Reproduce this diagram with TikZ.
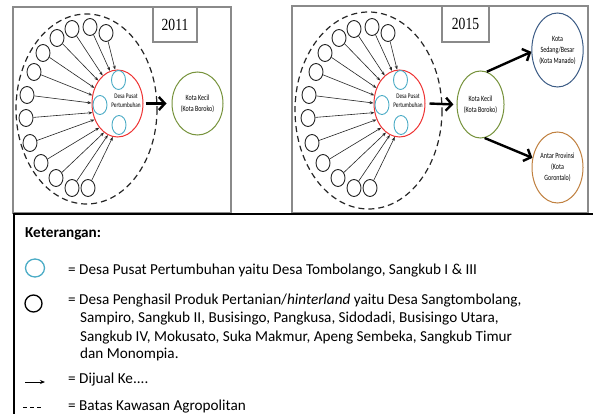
\documentclass[tikz,border=0pt]{standalone}
\usepackage{fontspec}
\setmainfont{Carlito}
\newfontfamily\nodefont[FakeStretch=0.75]{Carlito}
\newfontfamily\yearfont[FakeStretch=0.8]{Liberation Serif}
\usetikzlibrary{shapes.geometric,arrows.meta}
\definecolor{redc}{HTML}{EE3333}
\definecolor{bluec}{HTML}{4BACC6}
\definecolor{greenc}{HTML}{77933C}
\definecolor{navyc}{HTML}{3B5B85}
\definecolor{orangec}{HTML}{C0803F}
\definecolor{framec}{HTML}{8A8A8A}
\newcommand\makecluster[5]{%
\begin{scope}[shift={(#2,0)}, name prefix=#1-]
  \draw[dashline] (86.5,#5) ellipse [x radius=#3, y radius=#4];
  \node[pusat] (red) at (117.5,103.5) {};
  \node[growth] (g1) at (118.5,80) {};
  \node[growth] (g2) at (100,105) {};
  \node[growth] (g3) at (119,125) {};
  \node[smalltext] (lbl) at (126,101) {Desa Pusat\\Pertumbuhan};
  \foreach \i/\cx/\cy/\ang in {1/106/33/94, 2/90/27/103, 3/72/29/118, 4/57/38/130, 5/43/53/146, 6/34/72/162, 7/27/95/179, 8/26/118/200, 9/30/143/215, 10/41/163/233, 11/56/178/245, 12/72/188/253, 13/88/188/262}{
    \node[village] (v\i) at (\cx,\cy) {};
    \draw[feed] (v\i) -- (red.\ang);
  }
\end{scope}}
\begin{document}
\begin{tikzpicture}[x=1pt,y=-1pt,
  village/.style={draw=black!85, line width=0.9pt, ellipse, minimum width=14pt, minimum height=17pt, inner sep=0pt},
  growth/.style={draw=bluec, line width=0.9pt, ellipse, minimum width=14pt, minimum height=19pt, inner sep=0pt},
  pusat/.style={draw=redc, line width=1pt, ellipse, minimum width=51pt, minimum height=67pt, inner sep=0pt},
  feed/.style={-{Stealth[length=4pt,width=3pt]}, line width=0.6pt, black!85},
  big/.style={-{Straight Barb[length=6pt,width=13pt]}, line width=2.4pt},
  dashline/.style={line width=1.2pt, black!85, dash pattern=on 6pt off 4pt},
  city/.style={ellipse, line width=1pt, inner sep=0pt, align=center, font=\nodefont\fontsize{8}{11}\selectfont},
  smalltext/.style={inner sep=0pt, align=center, font=\nodefont\fontsize{7}{9}\selectfont},
  frame/.style={draw=framec, line width=1.2pt},
  leg/.style={anchor=base west, inner sep=0pt, font=\fontsize{15.2}{18}\selectfont}
]
\useasboundingbox (0,0) rectangle (593,414);
\fill[white] (0,0) rectangle (593,414);
% frames
\draw[frame] (13,7) rectangle (231,213);
\draw[frame] (292,6) rectangle (588,213);
\node[frame, minimum width=44pt, minimum height=35pt, inner sep=0pt, font=\yearfont\fontsize{17}{17}\selectfont] (y1) at (175,24.5) {2011};
\node[frame, minimum width=47pt, minimum height=36pt, inner sep=0pt, font=\yearfont\fontsize{17}{17}\selectfont] (y2) at (465.5,24) {2015};
% clusters
\makecluster{L}{0}{70.5}{95}{109}
\makecluster{R}{282}{73.5}{98.5}{110.5}
% left panel
\node[city, draw=greenc, minimum width=51pt, minimum height=63pt] (L-kk) at (197.5,103.5) {Kota Kecil\\(Kota Boroko)};
\draw[big] ([xshift=2pt]L-red.east) -- ([xshift=-5pt]L-kk.west);
% right panel
\node[city, draw=greenc, minimum width=45pt, minimum height=67pt] (R-kk) at (480.5,104.5) {Kota Kecil\\(Kota Boroko)};
\node[city, draw=navyc, minimum width=51pt, minimum height=74pt] (R-ks) at (557.5,50) {Kota\\Sedang/Besar\\(Kota Manado)};
\node[city, draw=orangec, minimum width=51pt, minimum height=71pt] (R-ap) at (557.5,167.5) {Antar Provinsi\\(Kota\\Gorontalo)};
\draw[big] ([xshift=4pt]R-red.east) -- ([xshift=-3pt]R-kk.west);
\draw[big] (R-kk.79) -- (R-ks.184);
\draw[big] (R-kk.277) -- (R-ap.159);
% legend
\draw[line width=1.2pt] (600,214) -- (14,214) -- (14,420);
\node[leg, font=\fontsize{15.2}{18}\selectfont\bfseries] (ket) at (25,237) {Keterangan:};
\node[draw=bluec, line width=1.3pt, ellipse, minimum width=19pt, minimum height=18pt, inner sep=0pt] (lb) at (35,268) {};
\node[leg] (t1) at (68,274) {= Desa Pusat Pertumbuhan yaitu Desa Tombolango, Sangkub I \& III};
\node[draw=black, line width=1.3pt, ellipse, minimum width=17pt, minimum height=17pt, inner sep=0pt] (lk) at (33.5,303.5) {};
\node[leg] (t2a) at (68,304) {= Desa Penghasil Produk Pertanian/\textit{hinterland} yaitu Desa Sangtombolang,};
\node[leg] (t2b) at (80,322) {Sampiro, Sangkub II, Busisingo, Pangkusa, Sidodadi, Busisingo Utara,};
\node[leg] (t2c) at (80,341) {Sangkub IV, Mokusato, Suka Makmur, Apeng Sembeka, Sangkub Timur};
\node[leg] (t2d) at (80,358) {dan Monompia.};
\coordinate (a1) at (25,382);
\coordinate (a2) at (45,382);
\draw[-{Stealth[length=5pt,width=4pt]}, line width=0.8pt] (a1) -- (a2);
\node[leg] (t3) at (68,383) {= Dijual Ke....};
\coordinate (d1) at (23,407);
\coordinate (d2) at (43,407);
\draw[line width=1pt, dash pattern=on 4pt off 3pt] (d1) -- (d2);
\node[leg] (t4) at (68,410) {= Batas Kawasan Agropolitan};
\end{tikzpicture}
\end{document}
